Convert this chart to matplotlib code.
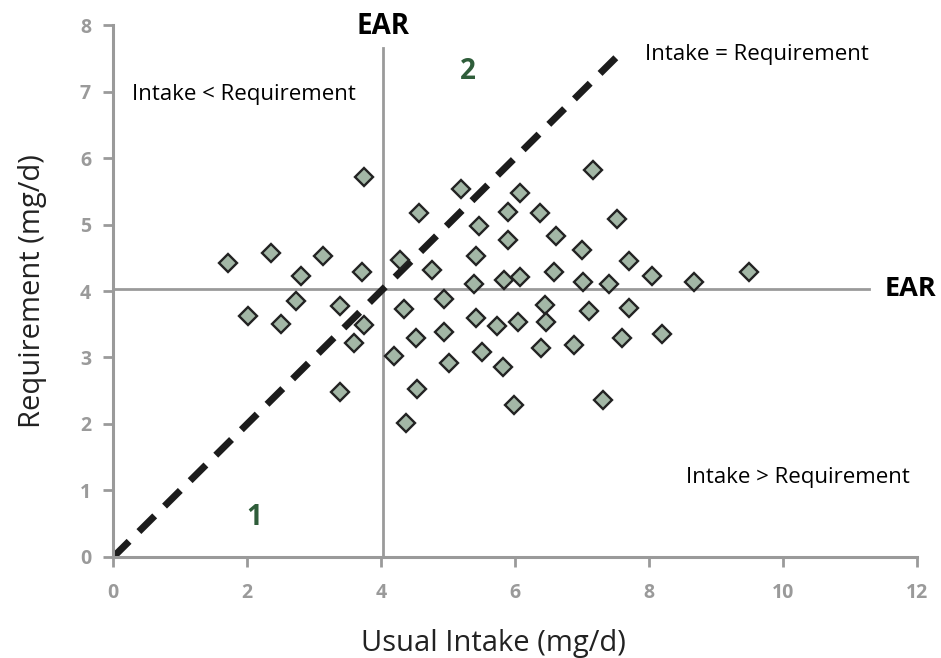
import matplotlib
matplotlib.use('Agg')
import matplotlib.pyplot as plt

plt.rcParams['font.family'] = ['Open Sans', 'Noto Sans', 'DejaVu Sans']

# usual intake (mg/d) and requirement (mg/d) for each person
intake = [1.71, 2.35, 3.13, 2.80, 3.72, 3.75, 2.73, 2.01, 2.50, 3.38,
          3.75, 3.59, 3.38, 4.28, 4.34, 4.20, 4.52, 4.54, 4.38, 4.57,
          4.76, 4.94, 4.94, 5.19, 5.42, 5.47, 5.42, 5.39, 5.73, 5.82,
          5.51, 5.90, 5.90, 5.84, 6.07, 6.07, 6.04, 5.98, 6.38, 6.45,
          6.47, 6.39, 6.61, 6.58, 6.89, 7.00, 7.01, 7.10, 7.16, 7.32,
          7.40, 7.52, 7.60, 7.71, 7.71, 8.05, 8.19, 8.68, 9.50, 5.02]
requirement = [4.42, 4.57, 4.53, 4.23, 4.28, 5.71, 3.85, 3.62, 3.51, 3.77,
               3.49, 3.22, 2.48, 4.46, 3.73, 3.03, 3.30, 2.53, 2.02, 5.17,
               4.31, 3.88, 3.39, 5.54, 4.53, 4.98, 3.60, 4.11, 3.47, 2.86,
               3.08, 5.19, 4.77, 4.17, 5.48, 4.21, 3.53, 2.28, 5.17, 3.79,
               3.53, 3.15, 4.83, 4.28, 3.19, 4.62, 4.14, 3.70, 5.82, 2.36,
               4.11, 5.08, 3.30, 4.45, 3.74, 4.22, 3.36, 4.14, 4.28, 2.91]

ear = 4.03
diag = [0, 7.6]
x_ticks = [0, 2, 4, 6, 8, 10, 12]
y_ticks = [0, 1, 2, 3, 4, 5, 6, 7, 8]

grey = '#9a9a9a'
green = '#2f5d3a'

fig = plt.figure(figsize=(9.41, 6.58), dpi=100)
ax = fig.add_axes([0.1204, 0.1535, 0.8536, 0.8085])

# EAR reference lines
ax.plot([ear, ear], [0, 7.65], color=grey, lw=2, zorder=1, clip_on=False)
ax.plot([0, 11.29], [ear, ear], color=grey, lw=2, zorder=1, clip_on=False)

# intake = requirement
ax.plot(diag, diag, color='#1c1c1c', lw=5, dashes=(3.2, 2.0), zorder=2,
        solid_capstyle='butt', dash_capstyle='butt')

ax.plot(intake, requirement, 'D', ms=8.8, mfc='#a3b7a6', mec='#222222',
        mew=1.7, zorder=3, clip_on=False)

ax.set_xlim(0, 12)
ax.set_ylim(0, 8)
ax.set_xticks(x_ticks)
ax.set_yticks(y_ticks)
for s in ['top', 'right']:
    ax.spines[s].set_visible(False)
for s in ['left', 'bottom']:
    ax.spines[s].set_color(grey)
    ax.spines[s].set_linewidth(2.2)
ax.tick_params(colors=grey, width=2, length=7, labelsize=14)
ax.tick_params(axis='x', pad=12)
ax.tick_params(axis='y', pad=9)
for lab in ax.get_xticklabels() + ax.get_yticklabels():
    lab.set_fontweight('bold')

ax.set_xlabel('Usual Intake (mg/d)', fontsize=21, color='#222222')
ax.set_ylabel('Requirement (mg/d)', fontsize=21, color='#222222')
ax.xaxis.set_label_coords(0.473, -0.136)
ax.yaxis.set_label_coords(-0.083, 0.5)

ax.text(ear, 7.97, 'EAR', ha='center', va='center', fontsize=20,
        fontweight='bold', color='black', clip_on=False)
ax.text(11.52, ear, 'EAR', ha='left', va='center', fontsize=19.5,
        fontweight='bold', color='black', clip_on=False)
ax.text(0.28, 6.95, 'Intake < Requirement', fontsize=16, va='center')
ax.text(7.95, 7.55, 'Intake = Requirement', fontsize=16, va='center')
ax.text(8.55, 1.2, 'Intake > Requirement', fontsize=16, va='center')
ax.text(5.3, 7.3, '2', fontsize=20, fontweight='bold', color=green, ha='center', va='center')
ax.text(2.1, 0.6, '1', fontsize=20, fontweight='bold', color=green, ha='center', va='center')

fig.savefig('out.png', dpi=100)
